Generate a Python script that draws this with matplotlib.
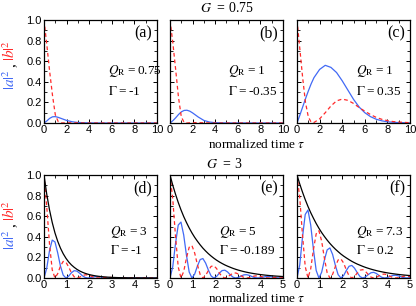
import matplotlib
matplotlib.use("Agg")
import matplotlib.pyplot as plt
from matplotlib.ticker import MultipleLocator

plt.rcParams['font.family'] = ['Liberation Serif', 'DejaVu Serif']
plt.rcParams['mathtext.fontset'] = 'stix'

# ---- top row (G = 0.75) ----
tau_a = [0, 0.25, 0.5, 0.75, 1.0, 1.25, 1.5, 2.0, 2.5, 3.0, 4.0, 5.0, 10.0]
blue_a = [0, 0.02, 0.045, 0.06, 0.062, 0.055, 0.045, 0.025, 0.012, 0.005, 0.001, 0, 0]
red_a = [1.0, 0.76, 0.5, 0.27, 0.08, 0.015, 0.0, 0.002, 0.002, 0.001, 0, 0, 0]

tau_b = [0, 0.25, 0.5, 0.75, 1.0, 1.25, 1.5, 1.75, 2.0, 2.5, 3.0, 3.5, 4.0, 5.0, 10.0]
blue_b = [0, 0.022, 0.05, 0.082, 0.108, 0.122, 0.124, 0.115, 0.098, 0.058, 0.025, 0.009, 0.003, 0.0005, 0]
red_b = [1.0, 0.78, 0.52, 0.25, 0.06, 0.005, 0.0, 0.002, 0.003, 0.004, 0.002, 0.001, 0, 0, 0]

tau_c = [0, 0.25, 0.5, 0.75, 1.0, 1.25, 1.5, 2.0, 2.5, 3.0, 3.5, 4.0, 4.5, 5.0,
         5.5, 6.0, 6.5, 7.0, 7.5, 8.0, 8.5, 9.0, 10.0]
blue_c = [0, 0.075, 0.155, 0.235, 0.31, 0.38, 0.44, 0.52, 0.56, 0.54, 0.49, 0.41, 0.32, 0.23,
          0.155, 0.10, 0.062, 0.037, 0.021, 0.012, 0.007, 0.004, 0.001]
red_c = [1.0, 0.72, 0.44, 0.2, 0.06, 0.008, 0.005, 0.04, 0.1, 0.165, 0.215, 0.232, 0.22, 0.19,
         0.15, 0.115, 0.082, 0.055, 0.036, 0.023, 0.014, 0.009, 0.003]

# ---- bottom row (G = 3) ----
tau_bot = [0, 0.121, 0.243, 0.364, 0.485, 0.606, 0.728, 0.849, 0.970, 1.091,
           1.213, 1.334, 1.455, 1.576, 1.698, 1.819, 1.940, 2.061, 2.183, 2.304,
           2.425, 2.546, 2.668, 2.789, 2.910, 3.031, 3.153, 3.274, 3.395, 3.516,
           3.638, 3.759, 3.880, 4.001, 4.123, 4.244, 4.365, 4.486, 4.608, 4.729,
           4.850, 4.971, 5.0]

env_d = [1, .814, .662, .539, .438, .357, .290, .236, .192, .156,
         .127, .104, .0843, .0686, .0558, .0454, .0370, .0301, .0245, .0199,
         .0162, .0132, .0107, .0087, .0071, .0058, .0047, .0038, .0031, .0025,
         .0021, .0017, .0014, .0011, .0009, .0007, .0006, .0005, .0004, .0003,
         .0003, .0002, .0002]
blue_d = [0, .095, .265, .368, .350, .244, .116, .028, 0, .018,
          .051, .071, .067, .047, .022, .0053, 0, .0035, .0098, .0136,
          .013, .009, .0043, .001, 0, .0007, .0019, .0026, .0025, .0017,
          .0008, .0002, 0, .0001, .0004, .0005, .0005, .0003, .0001, 0,
          0, 0, 0]
red_d = [1, .695, .331, .079, 0, .042, .116, .161, .154, .107,
         .051, .012, 0, .008, .022, .031, .030, .021, .0098, .0023,
         0, .0015, .0043, .0059, .0057, .0040, .0019, .0004, 0, .0003,
         .0008, .0012, .0011, .0008, .0004, .0001, 0, .0001, .0002, .0002,
         .0002, .0001, .0001]

env_e = [1, .902, .814, .734, .662, .597, .539, .486, .438, .395,
         .357, .322, .290, .262, .236, .213, .192, .173, .156, .141,
         .127, .115, .104, .0935, .0843, .0761, .0686, .0619, .0558, .0504,
         .0454, .0410, .0370, .0333, .0301, .0271, .0245, .0221, .0199, .0180,
         .0162, .0146, .0143]
blue_e = [0, .108, .334, .514, .543, .418, .221, .058, 0, .0375,
          .116, .179, .189, .145, .077, .020, 0, .0152, .047, .072,
          .076, .059, .031, .0082, 0, .0064, .020, .031, .032, .025,
          .013, .0035, 0, .0028, .0087, .0134, .0142, .011, .0058, .0015,
          0, .0012, .0018]
red_e = [1, .770, .407, .107, 0, .063, .194, .299, .315, .243,
         .129, .034, 0, .0237, .073, .113, .119, .092, .048, .0128,
         0, .0097, .030, .046, .049, .038, .020, .0052, 0, .0043,
         .013, .020, .021, .0165, .0087, .0023, 0, .0019, .0058, .0089,
         .0094, .0072, .0065]

env_f = [1, .913, .834, .761, .695, .635, .580, .529, .483, .441,
         .403, .368, .336, .307, .280, .256, .233, .213, .195, .178,
         .162, .148, .135, .124, .113, .103, .0941, .0859, .0785, .0716,
         .0654, .0597, .0545, .0498, .0455, .0415, .0379, .0346, .0316, .0289,
         .0264, .0241, .0235]
blue_f = [0, .127, .396, .617, .660, .515, .276, .073, 0, .056,
          .175, .273, .292, .228, .122, .0325, 0, .0233, .073, .114,
          .122, .095, .051, .0136, 0, .0105, .033, .051, .055, .043,
          .023, .0061, 0, .0051, .016, .0248, .0265, .0207, .011, .003,
          0, .0025, .0036]
red_f = [1, .780, .417, .111, 0, .088, .276, .429, .459, .358,
         .191, .051, 0, .036, .112, .175, .186, .146, .078, .0208,
         0, .0156, .049, .076, .081, .063, .034, .009, 0, .0073,
         .0229, .0357, .038, .0298, .0159, .0042, 0, .0035, .011, .0173,
         .0185, .0144, .0128]

letters = ['(a)', '(b)', '(c)', '(d)', '(e)', '(f)']
q_r = ['0.75', '1', '1', '3', '5', '7.3']
gam = ['-1', '-0.35', '0.35', '-1', '-0.189', '0.2']

BLUE = '#4169f5'
RED = '#ff2a2a'
DASH = (0, (3, 2.3))
W, H = 416, 306

fig = plt.figure(figsize=(W / 100, H / 100), dpi=100)


def box(x0, y0, x1, y1):
    return [x0 / W, 1 - y1 / H, (x1 - x0) / W, (y1 - y0) / H]


lefts = [44, 170, 297]
top_rows = [(20, 123), (175, 278)]
txt_x = [0.57, 0.51, 0.524, 0.584, 0.43, 0.524]
txt_y = [(0.505, 0.31), (0.505, 0.31), (0.505, 0.31), (0.45, 0.27), (0.45, 0.27), (0.45, 0.27)]

top_data = [(tau_a, blue_a, red_a), (tau_b, blue_b, red_b), (tau_c, blue_c, red_c)]
bot_data = [(blue_d, red_d, env_d), (blue_e, red_e, env_e), (blue_f, red_f, env_f)]

for r, (yt, yb) in enumerate(top_rows):
    for c, xl in enumerate(lefts):
        ax = fig.add_axes(box(xl, yt, xl + 113, yb))
        i = r * 3 + c
        if r == 0:
            t, bl, rd = top_data[c]
            ax.plot(t, bl, color=BLUE, lw=0.9)
            ax.plot(t, rd, color=RED, lw=0.9, ls=DASH)
            ax.set_xlim(0, 10)
            ax.xaxis.set_major_locator(MultipleLocator(2))
            ax.xaxis.set_minor_locator(MultipleLocator(1))
        else:
            bl, rd, en = bot_data[c]
            ax.plot(tau_bot, bl, color=BLUE, lw=0.9)
            ax.plot(tau_bot, rd, color=RED, lw=0.9, ls=DASH)
            ax.plot(tau_bot, en, color='black', lw=0.9)
            ax.set_xlim(0, 5)
            ax.xaxis.set_major_locator(MultipleLocator(1))
            ax.xaxis.set_minor_locator(MultipleLocator(0.5))
        ax.set_ylim(0, 1)
        ax.yaxis.set_major_locator(MultipleLocator(0.2))
        ax.yaxis.set_minor_locator(MultipleLocator(0.1))
        ax.tick_params(which='both', direction='in', top=True, right=True)
        ax.tick_params(which='major', length=3, width=0.7)
        ax.tick_params(which='minor', length=2, width=0.6)
        ax.tick_params(labelsize=8, pad=1.5)
        for lab in ax.get_xticklabels() + ax.get_yticklabels():
            lab.set_family('Liberation Sans')
        if c == 0:
            ax.yaxis.set_major_formatter(matplotlib.ticker.FormatStrFormatter('%.1f'))
        else:
            ax.set_yticklabels([])
        for sp in ax.spines.values():
            sp.set_linewidth(0.9)
        ax.text(0.96, 0.95, letters[i], transform=ax.transAxes, ha='right', va='top', fontsize=11.5)
        ax.text(txt_x[i], txt_y[i][0], r'$Q_{\rm R}$' + '\u2009=\u2009' + q_r[i],
                transform=ax.transAxes, ha='left', va='center', fontsize=9.5)
        ax.text(txt_x[i], txt_y[i][1], r'$\Gamma$' + '\u2009=\u2009' + gam[i],
                transform=ax.transAxes, ha='left', va='center', fontsize=9.5)

# titles and axis labels
fig.text(227 / W, 1 - 8 / H, r'$G$  = 0.75', ha='center', va='center', fontsize=10)
fig.text(224 / W, 1 - 164 / H, r'$G$  = 3', ha='center', va='center', fontsize=10)
for yy in (144, 299):
    fig.text(257 / W, 1 - yy / H, r'normalized time $\tau$', ha='center', va='center', fontsize=9.5)

for yc in (66, 226):
    fig.text(10 / W, 1 - (yc + 14) / H, r'$|a|^2$', color=BLUE, rotation=90,
             ha='center', va='center', fontsize=11)
    fig.text(11 / W, 1 - (yc - 1) / H, ',', rotation=90, ha='center', va='center', fontsize=11)
    fig.text(10 / W, 1 - (yc - 15) / H, r'$|b|^2$', color=RED, rotation=90,
             ha='center', va='center', fontsize=11)

fig.savefig('out.png', dpi=100)
